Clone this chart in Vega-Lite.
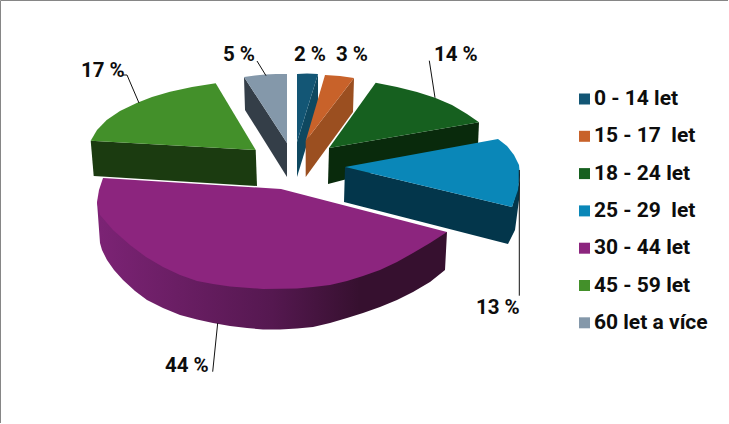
{
"$schema":"https://vega.github.io/schema/vega-lite/v6.json",
"width":728,"height":423,"padding":0,"autosize":"none","background":"white",
"view":{"stroke":"#868686","strokeWidth":1,"fill":"white"},
"config":{"font":"Roboto","text":{"font":"Roboto"}},
"datasets":{
"sides":[
{"age":"45 - 59 let","i":1,"x":90.7,"y":140.7},{"age":"45 - 59 let","i":2,"x":255.7,"y":150},{"age":"45 - 59 let","i":3,"x":257,"y":186},{"age":"45 - 59 let","i":4,"x":93.7,"y":176},
{"age":"60 let a více","i":1,"x":244,"y":77},{"age":"60 let a více","i":2,"x":287,"y":143},{"age":"60 let a více","i":3,"x":287,"y":177},{"age":"60 let a více","i":4,"x":245,"y":110},
{"age":"0 - 14 let","i":1,"x":318,"y":74},{"age":"0 - 14 let","i":2,"x":297,"y":142},{"age":"0 - 14 let","i":3,"x":297,"y":177},{"age":"0 - 14 let","i":4,"x":318,"y":108},
{"age":"15 - 17\u00a0 let","i":1,"x":354,"y":78},{"age":"15 - 17\u00a0 let","i":2,"x":305.7,"y":141},{"age":"15 - 17\u00a0 let","i":3,"x":305.7,"y":177},{"age":"15 - 17\u00a0 let","i":4,"x":353,"y":112},
{"age":"18 - 24 let","i":1,"x":329,"y":148},{"age":"18 - 24 let","i":2,"x":479,"y":122.3},{"age":"18 - 24 let","i":3,"x":478,"y":145},{"age":"18 - 24 let","i":4,"x":328,"y":184},
{"age":"25 - 29\u00a0 let","i":1,"x":345,"y":167},{"age":"25 - 29\u00a0 let","i":2,"x":512,"y":207},{"age":"25 - 29\u00a0 let","i":3,"x":520,"y":180},{"age":"25 - 29\u00a0 let","i":4,"x":519,"y":200},{"age":"25 - 29\u00a0 let","i":5,"x":515,"y":230},{"age":"25 - 29\u00a0 let","i":6,"x":508,"y":244},{"age":"25 - 29\u00a0 let","i":7,"x":344,"y":202}
],
"purpleSide":[
{"age":"30 - 44 let","i":1,"x":97,"y":202},{"age":"30 - 44 let","i":2,"x":281,"y":250},{"age":"30 - 44 let","i":3,"x":447,"y":232},{"age":"30 - 44 let","i":4,"x":445,"y":270},{"age":"30 - 44 let","i":5,"x":430,"y":282},{"age":"30 - 44 let","i":6,"x":413,"y":292},{"age":"30 - 44 let","i":7,"x":397,"y":300},{"age":"30 - 44 let","i":8,"x":380,"y":307},{"age":"30 - 44 let","i":9,"x":363,"y":313},{"age":"30 - 44 let","i":10,"x":347,"y":318},{"age":"30 - 44 let","i":11,"x":330,"y":323},{"age":"30 - 44 let","i":12,"x":313,"y":327},{"age":"30 - 44 let","i":13,"x":297,"y":328.5},{"age":"30 - 44 let","i":14,"x":280,"y":329.5},{"age":"30 - 44 let","i":15,"x":263,"y":329.5},{"age":"30 - 44 let","i":16,"x":247,"y":328},{"age":"30 - 44 let","i":17,"x":230,"y":326},{"age":"30 - 44 let","i":18,"x":213,"y":323},{"age":"30 - 44 let","i":19,"x":197,"y":319.5},{"age":"30 - 44 let","i":20,"x":180,"y":315},{"age":"30 - 44 let","i":21,"x":163,"y":308},{"age":"30 - 44 let","i":22,"x":147,"y":300},{"age":"30 - 44 let","i":23,"x":135,"y":291},{"age":"30 - 44 let","i":24,"x":123,"y":280},{"age":"30 - 44 let","i":25,"x":114,"y":270},{"age":"30 - 44 let","i":26,"x":107,"y":260},{"age":"30 - 44 let","i":27,"x":102,"y":250},{"age":"30 - 44 let","i":28,"x":100,"y":243}
],
"tops":[
{"age":"0 - 14 let","i":1,"x":297,"y":74},{"age":"0 - 14 let","i":2,"x":307,"y":73.6},{"age":"0 - 14 let","i":3,"x":318,"y":74},{"age":"0 - 14 let","i":4,"x":297,"y":142},
{"age":"15 - 17\u00a0 let","i":1,"x":325,"y":75},{"age":"15 - 17\u00a0 let","i":2,"x":340,"y":76},{"age":"15 - 17\u00a0 let","i":3,"x":354,"y":78},{"age":"15 - 17\u00a0 let","i":4,"x":305.7,"y":141},
{"age":"18 - 24 let","i":1,"x":375.7,"y":82.7},{"age":"18 - 24 let","i":2,"x":397,"y":87},{"age":"18 - 24 let","i":3,"x":417,"y":92},{"age":"18 - 24 let","i":4,"x":435,"y":97.7},{"age":"18 - 24 let","i":5,"x":452,"y":105},{"age":"18 - 24 let","i":6,"x":467,"y":114},{"age":"18 - 24 let","i":7,"x":479,"y":122.3},{"age":"18 - 24 let","i":8,"x":329,"y":148},
{"age":"25 - 29\u00a0 let","i":1,"x":345,"y":167},{"age":"25 - 29\u00a0 let","i":2,"x":498,"y":139},{"age":"25 - 29\u00a0 let","i":3,"x":507,"y":146},{"age":"25 - 29\u00a0 let","i":4,"x":514,"y":155},{"age":"25 - 29\u00a0 let","i":5,"x":519,"y":165},{"age":"25 - 29\u00a0 let","i":6,"x":520,"y":175},{"age":"25 - 29\u00a0 let","i":7,"x":518,"y":190},{"age":"25 - 29\u00a0 let","i":8,"x":512,"y":207},
{"age":"30 - 44 let","i":1,"x":281,"y":189},{"age":"30 - 44 let","i":2,"x":103,"y":178},{"age":"30 - 44 let","i":3,"x":99,"y":190},{"age":"30 - 44 let","i":4,"x":97,"y":202},{"age":"30 - 44 let","i":5,"x":100,"y":215},{"age":"30 - 44 let","i":6,"x":113,"y":230},{"age":"30 - 44 let","i":7,"x":130,"y":245},{"age":"30 - 44 let","i":8,"x":146,"y":257},{"age":"30 - 44 let","i":9,"x":163,"y":267},{"age":"30 - 44 let","i":10,"x":180,"y":275},{"age":"30 - 44 let","i":11,"x":197,"y":281},{"age":"30 - 44 let","i":12,"x":213,"y":284},{"age":"30 - 44 let","i":13,"x":230,"y":286.5},{"age":"30 - 44 let","i":14,"x":263,"y":289},{"age":"30 - 44 let","i":15,"x":297,"y":288.5},{"age":"30 - 44 let","i":16,"x":313,"y":287},{"age":"30 - 44 let","i":17,"x":330,"y":285},{"age":"30 - 44 let","i":18,"x":347,"y":281},{"age":"30 - 44 let","i":19,"x":363,"y":276},{"age":"30 - 44 let","i":20,"x":380,"y":270},{"age":"30 - 44 let","i":21,"x":397,"y":262},{"age":"30 - 44 let","i":22,"x":413,"y":253},{"age":"30 - 44 let","i":23,"x":430,"y":243},{"age":"30 - 44 let","i":24,"x":447,"y":232},
{"age":"45 - 59 let","i":1,"x":90.7,"y":140.7},{"age":"45 - 59 let","i":2,"x":97,"y":130},{"age":"45 - 59 let","i":3,"x":106.7,"y":120},{"age":"45 - 59 let","i":4,"x":120,"y":111},{"age":"45 - 59 let","i":5,"x":136.7,"y":103},{"age":"45 - 59 let","i":6,"x":152,"y":97},{"age":"45 - 59 let","i":7,"x":170,"y":91.7},{"age":"45 - 59 let","i":8,"x":192,"y":87},{"age":"45 - 59 let","i":9,"x":215.7,"y":83.3},{"age":"45 - 59 let","i":10,"x":255.7,"y":150},
{"age":"60 let a více","i":1,"x":244,"y":77},{"age":"60 let a více","i":2,"x":255,"y":75.5},{"age":"60 let a více","i":3,"x":265,"y":74.5},{"age":"60 let a více","i":4,"x":276,"y":74},{"age":"60 let a více","i":5,"x":287,"y":74},{"age":"60 let a více","i":6,"x":287,"y":143}
],
"leaders":[
{"age":"45 - 59 let","i":1,"x":123,"y":75},{"age":"45 - 59 let","i":2,"x":127,"y":75},{"age":"45 - 59 let","i":3,"x":139,"y":103},
{"age":"60 let a více","i":1,"x":257,"y":61},{"age":"60 let a více","i":2,"x":266,"y":75.7},
{"age":"18 - 24 let","i":1,"x":429.3,"y":60.7},{"age":"18 - 24 let","i":2,"x":435,"y":97.7},
{"age":"25 - 29\u00a0 let","i":1,"x":519.3,"y":170},{"age":"25 - 29\u00a0 let","i":2,"x":519.3,"y":295.7},
{"age":"30 - 44 let","i":1,"x":217.7,"y":323},{"age":"30 - 44 let","i":2,"x":212.7,"y":371.7}
],
"labels":[
{"age":"0 - 14 let","label":"2 %","x":294,"y":61},
{"age":"15 - 17\u00a0 let","label":"3 %","x":336,"y":61},
{"age":"18 - 24 let","label":"14 %","x":434,"y":61},
{"age":"25 - 29\u00a0 let","label":"13 %","x":476,"y":314},
{"age":"30 - 44 let","label":"44 %","x":165,"y":372},
{"age":"45 - 59 let","label":"17 %","x":81,"y":77},
{"age":"60 let a více","label":"5 %","x":223,"y":61}
]
},
"encoding":{
  "x":{"field":"x","type":"quantitative","scale":{"domain":[0,728],"nice":false,"zero":false},"axis":null},
  "y":{"field":"y","type":"quantitative","scale":{"domain":[423,0],"nice":false,"zero":false},"axis":null}
},
"layer":[
{"data":{"name":"sides"},
 "mark":{"type":"line","filled":true,"interpolate":"linear-closed","strokeWidth":0},
 "encoding":{
  "order":{"field":"i"},
  "color":{"field":"age","type":"nominal","legend":null,
   "scale":{"domain":["45 - 59 let","60 let a více","0 - 14 let","15 - 17\u00a0 let","18 - 24 let","25 - 29\u00a0 let"],
   "range":["#1b3b10","#343e48","#0e4860","#9b4f20","#092a0c","#03364b"]}}
 }},
{"data":{"name":"purpleSide"},
 "mark":{"type":"line","filled":true,"interpolate":"linear-closed","strokeWidth":0,
  "color":{"gradient":"linear","x1":0,"y1":0,"x2":1,"y2":0,"stops":[{"offset":0,"color":"#7c2375"},{"offset":0.5,"color":"#551850"},{"offset":0.75,"color":"#36102f"},{"offset":1,"color":"#36102f"}]}},
 "encoding":{
  "order":{"field":"i"}
 }},
{"data":{"name":"tops"},
 "mark":{"type":"line","filled":true,"interpolate":"linear-closed","strokeWidth":0},
 "encoding":{
  "order":{"field":"i"},
  "color":{"field":"age","type":"nominal","title":null,
   "scale":{"domain":["0 - 14 let","15 - 17\u00a0 let","18 - 24 let","25 - 29\u00a0 let","30 - 44 let","45 - 59 let","60 let a více"],
   "range":["#135675","#c8622a","#16601f","#0a87b8","#8c257e","#43902a","#8498aa"]},
   "legend":{"orient":"none","legendX":574,"legendY":88.5,"symbolType":"square","symbolSize":121,"labelFont":"Roboto","labelFontSize":21,"labelFontWeight":"bold","labelColor":"#0d0d0d","labelLimit":200,"rowPadding":15.3,"labelOffset":-1,"symbolStrokeWidth":0,"padding":0}}
 }},
{"data":{"name":"leaders"},
 "mark":{"type":"line","color":"#111111","strokeWidth":1},
 "encoding":{
  "order":{"field":"i"},
  "detail":{"field":"age"}
 }},
{"data":{"name":"labels"},
 "mark":{"type":"text","align":"left","baseline":"alphabetic","font":"Roboto","fontSize":20.5,"fontWeight":"bold","color":"#0d0d0d"},
 "encoding":{
  "text":{"field":"label"}
 }}
],
"resolve":{"scale":{"color":"independent"}}
}
